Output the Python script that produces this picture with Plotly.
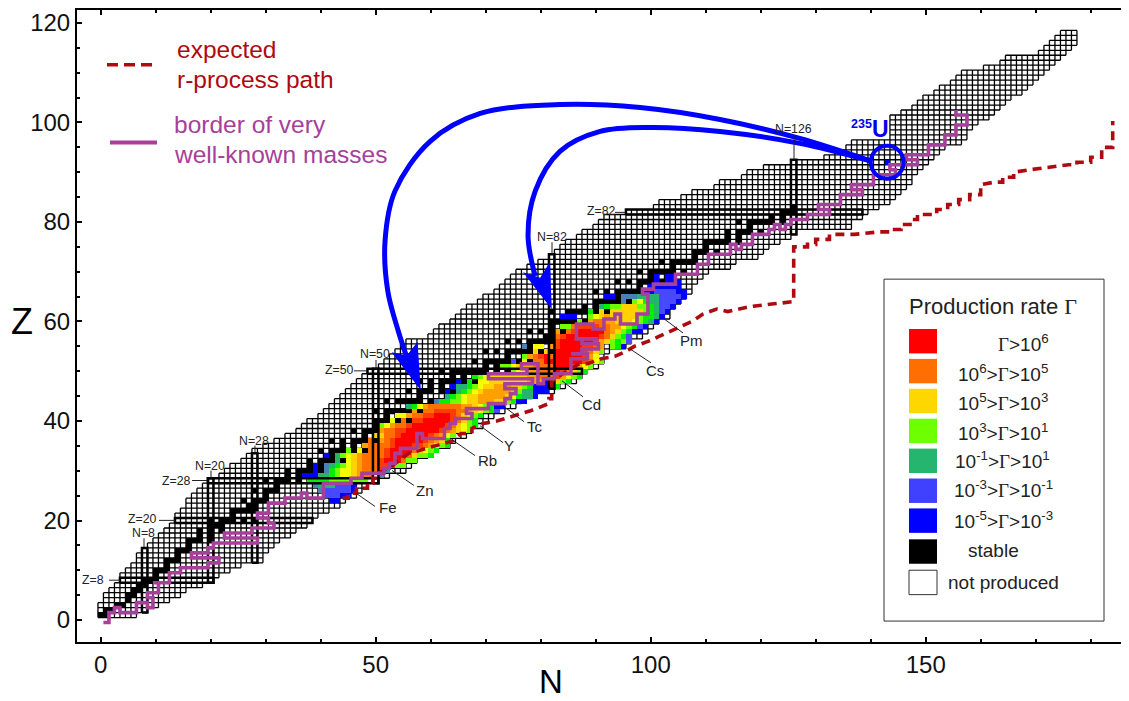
import plotly.graph_objects as go

# ---------- data ----------
grid_nmin = [0,0,0,1,1,2,3,4,4,5,6,7,7,8,9,10,11,12,13,14,14,15,16,16,17,18,19,20,22,23,24,26,27,28,30,32,34,36,37,38,
             40,41,42,43,44,45,46,47,48,49,51,52,53,54,55,56,60,61,62,64,65,66,67,69,70,72,73,74,75,76,78,80,82,83,84,85,87,88,90,91,
             92,96,101,102,106,108,112,113,117,118,121,126,132,134,136,137,144,144,144,144,144,146,148,149,150,152,153,155,156,157,161,164,165,171,172,173,174,175]
grid_nmax = [6,8,10,12,14,15,18,20,21,23,25,29,29,30,31,32,34,35,37,38,39,41,43,44,46,47,48,50,52,55,56,57,59,60,63,64,66,67,69,70,
             71,73,75,76,78,82,84,86,87,88,90,91,91,92,95,96,98,99,100,101,103,103,104,105,106,107,107,108,109,110,114,115,119,120,121,123,125,126,136,136,
             138,139,141,143,144,145,146,147,147,148,149,150,151,152,153,156,157,157,158,159,161,162,163,164,165,167,168,169,170,171,172,173,174,175,176,177,177,177]

stable_neutrons = {
 1:[0,1],2:[1,2],3:[3,4],4:[5],5:[5,6],6:[6,7],7:[7,8],8:[8,9,10],9:[10],10:[10,11,12],11:[12],12:[12,13,14],13:[14],
 14:[14,15,16],15:[16],16:[16,17,18,20],17:[18,20],18:[18,20,22],19:[20,21,22],20:[20,22,23,24,26,28],21:[24],
 22:[24,25,26,27,28],23:[27,28],24:[26,28,29,30],25:[30],26:[28,30,31,32],27:[32],28:[30,32,33,34,36],29:[34,36],
 30:[34,36,37,38,40],31:[38,40],32:[38,40,41,42,44],33:[42],34:[40,42,43,44,46,48],35:[44,46],36:[42,44,46,47,48,50],
 37:[48],38:[46,48,49,50],39:[50],40:[50,51,52,54,56],41:[52],42:[50,52,53,54,55,56,58],44:[52,54,55,56,57,58,60],
 45:[58],46:[56,58,59,60,62,64],47:[60,62],48:[58,60,62,63,64,66,68],49:[64,66],50:[62,64,65,66,67,68,69,70,72,74],
 51:[70,72],52:[68,70,71,72,73,74,76,78],53:[74],54:[70,72,74,75,76,77,78,80,82],55:[78],56:[74,76,78,79,80,81,82],
 57:[81,82],58:[78,80,82,84],59:[82],60:[82,83,84,85,86,88],62:[82,85,86,87,88,90,92],63:[88,90],
 64:[90,91,92,93,94,96],65:[94],66:[90,92,94,95,96,97,98],67:[98],68:[94,96,98,99,100,102],69:[100],
 70:[98,100,101,102,103,104,106],71:[104],72:[102,104,105,106,107,108],73:[108],74:[108,109,110,112],75:[110],
 76:[110,111,112,113,114,116],77:[114,116],78:[114,116,117,118,120],79:[118],80:[116,118,119,120,121,122,124],
 81:[122,124],82:[124,125,126],83:[126]}

# production-rate rows: proton number, first neutron number, one letter per nuclide ("." = none)
rate_z = [24,25,26,27,28,29,29,30,31,32,33,34,35,36,37,38,39,40,41,42,43,44,44,45,46,47,47,48,49,50,51,52,53,54,
          55,55,55,55,55,56,57,58,59,60,60,60,61,61,62,63,64,65,66,67,68,69,69,92]
rate_start = [42,41,40,39,38,37,51,39,39,43,41,45,48,49,50,51,51,53,54,57,56,58,61,63,63,64,82,65,66,75,73,75,77,79,
              77,79,82,83,93,83,83,83,84,84,87,89,84,89,89,91,95,92,98,100,101,101,103,143]
rate_codes = ["ll","kkkll","jkkkkkl","jiiikkkl","hhhhggggggg","llliihgffedcc","j",
  "l.jhgffedcccbj","l.jihgfedccc"+"bbbgg","ihfedccc"+"baaacgg","l.igfedccc"+"cbaaaceggh","g.fdcc"+"cbaaaacefgh",
  "dcc"+"ccbaaabbcdfgh","c."+"dcbaaaaabcdeh","e"+"eccbaaaaabcdfg","dccbbaaaaaabcdefg","gfdccbaaaaaabcefgh",
  "f.ccbbaaaaabcegh","ffdccbbaaabcefgh","dcccbbbbccdefghk","ihfdccccccddefghll","g","jhhggfeedddeeghll",
  "ihgfeedddddefhiil","l.ihgfedddddegiilll","liihgfeedddeeghlll","lh","l.hgffeeeeeeedddll"+"egh",
  "l.hgfeeeeeeeddccc"+"bdfgh","gfeddccc"+"abcegh","ggfeddcccc"+"aaabdfg","kgfdccaaaaaaabcfg","gdcbacaaaaabdf",
  "e.e.aaaaabceg","j","ff","d","baaaabbcd","ghl","baaaaaab"+"deghgk","cbaaaaaabcegh"+"k","d.cbaaaaacdeghll",
  "ggcbbbbccddfghkl","h","g","dccddeeefghil","lll","gfedeeeeeghhil","hgeeeeeeeeghikl","ihggeeegghikkl","j.gfhiikkkl",
  "ll.jjjiiiikkkkl","lllkkkkll","llllll","lllll","l","ll","l"]
rate_letters = "abcdefghijkl"
rate_colors = ["#FF0000","#FF3C00","#FF7000","#FFA000","#FFD200","#F4FF00","#70FF00","#00F000","#24B46E","#4682B4","#4848FF","#0000FF"]

magic_labels = ["Z=8","N=8","Z=20","N=20","Z=28","N=28","Z=50","N=50","N=82","Z=82","N=126"]
magic_n_low  = [3.5,7.5,13.5,19.5,19.5,27.5,48.5,49.5,81.5,95.5,125.5]
magic_n_high = [20.5,8.5,38.5,20.5,50.5,28.5,87.5,50.5,82.5,138.5,126.5]
magic_z_low  = [7.5,1.5,19.5,7.5,27.5,11.5,49.5,27.5,46.5,81.5,77.5]
magic_z_high = [8.5,14.5,20.5,28.5,28.5,33.5,50.5,50.5,73.5,82.5,92.5]

path_n = [0.5,1.5,1.5,2.5,2.5,3.5,3.5,6.5,6.5,8.5,8.5,9.5,9.5,8.5,8.5,10.5,10.5,9.5,12.5,12.5,14.5,14.5,19.5,19.5,21.5,21.5,16.5,16.5,19.5,19.5,20.5,20.5,28.5,28.5,22.5,22.5,27.5,27.5,31.5,31.5,30.5,30.5,28.5,28.5,30.5,30.5,33.5,33.5,36.5,36.5,37.5,37.5,40.5,40.5,45.5,45.5,47.5,47.5,51.5,51.5,52.5,52.5,53.5,53.5,54.5,54.5,57.5,57.5,58.5,58.5,62.5,62.5,63.5,63.5,64.5,64.5,67.5,67.5,66.5,66.5,70.5,70.5,73.5,73.5,74.5,74.5,75.5,75.5,73.5,73.5,78.5,78.5,70.5,70.5,77.5,77.5,76.5,76.5,79.5,79.5,80.5,80.5,82.5,82.5,85.5,85.5,88.5,88.5,85.5,87.5,87.5,90.5,90.5,87.5,87.5,90.5,90.5,86.5,86.5,89.5,89.5,91.5,91.5,93.5,93.5,94.5,94.5,97.5,97.5,99.5,99.5,98.5,98.5,100.5,100.5,104.5,104.5,108.5,108.5,110.5,110.5,114.5,114.5,115.5,115.5,116.5,116.5,118.5,118.5,121.5,121.5,122.5,122.5,123.5,123.5,124.5,124.5,125.5,125.5,128.5,128.5,132.5,132.5,130.5,130.5,134.5,134.5,138.5,138.5,136.5,136.5,140.5,140.5,144.5,144.5,143.5,143.5,148.5,148.5,146.5,146.5,150.5,150.5,153.5,153.5,155.5,155.5,157.5,157.5,155.5,155.5]
path_z = [-0.5,-0.5,1.5,1.5,2.5,2.5,1.5,1.5,3.5,3.5,2.5,2.5,4.5,4.5,5.5,5.5,7.5,7.5,7.5,9.5,9.5,10.5,10.5,11.5,11.5,12.5,12.5,13.5,13.5,14.5,14.5,15.5,15.5,16.5,16.5,17.5,17.5,18.5,18.5,19.5,19.5,20.5,20.5,21.5,21.5,23.5,23.5,24.5,24.5,25.5,25.5,24.5,24.5,27.5,27.5,28.5,28.5,29.5,29.5,30.5,30.5,31.5,31.5,33.5,33.5,34.5,34.5,37.5,37.5,36.5,36.5,38.5,38.5,39.5,39.5,40.5,40.5,41.5,41.5,42.5,42.5,43.5,43.5,44.5,44.5,45.5,45.5,46.5,46.5,47.5,47.5,48.5,48.5,49.5,49.5,50.5,50.5,51.5,51.5,47.5,47.5,48.5,48.5,49.5,49.5,52.5,52.5,53.5,53.5,53.5,54.5,54.5,55.5,55.5,56.5,56.5,56.5,56.5,59.5,59.5,58.5,58.5,60.5,60.5,61.5,61.5,59.5,59.5,61.5,61.5,65.5,65.5,66.5,66.5,67.5,67.5,69.5,69.5,71.5,71.5,73.5,73.5,75.5,75.5,74.5,74.5,75.5,75.5,77.5,77.5,78.5,78.5,79.5,79.5,78.5,78.5,79.5,79.5,80.5,80.5,81.5,81.5,82.5,82.5,83.5,83.5,85.5,85.5,86.5,86.5,87.5,87.5,89.5,89.5,90.5,90.5,91.5,91.5,92.5,92.5,93.5,93.5,95.5,95.5,97.5,97.5,99.5,99.5,101.5,101.5,102.5]

rpath_n = [44,45,45,46.5,46.5,48.5,48.5,49.5,49.5,50.5,50.5,53,56,59,62,64,65.5,67.5,67.5,69.5,72,75,78,81.5,81.5,82,82,84,85.5,87,88.5,91,93.5,95.5,97,99.5,101.5,103.5,105.5,107.5,109.5,112,114,118,122,126,126,128.5,128.5,130,130,132.5,132.5,137,141.5,143.5,143.5,145.5,145.5,147.5,147.5,148.5,148.5,152,152,154,154,156,156,158,158,160,160,162.5,164,164,166,166,169,172.5,176,177.5,177.5,180,180,182,182,184,184]
rpath_z = [24.5,24.5,25.5,25.5,26.5,26.5,27.5,27.5,28.5,28.5,29.5,31,33.5,34.5,35.5,36,37.5,37.5,38.5,39.5,40,41,42,43.5,44.5,44.5,48,49.5,50.5,51.5,51.5,52.5,53,54,55,56,57,58,59,60,61.5,62.5,62,63,63.5,64,75,75,75.5,75.5,76.5,76.5,77.5,77.5,78,78,78.5,78.5,79.5,79.5,80.5,80.5,81.5,81.5,82.5,82.5,83.5,83.5,84.5,84.5,85.5,85.5,87.5,88,88,89,89,90,90.5,91,91.5,91.5,92,92,93,93,95,95,100.3]

arrow1_n = [140.2,127.1,112.6,98.1,83.5,69,59.9,53.5,51.7,52.2,54.1,56.2]
arrow1_z = [92.2,96.8,100.6,103,103.6,101.8,96.2,86.2,76.2,66.1,58.1,51.1]
head1_n = [52.9,55.6,57.6,58.2]
head1_z = [53.8,53.1,55.9,46.2]
arrow2_n = [140.2,127.1,112.6,99.9,90.8,83.5,79,77.7,79]
arrow2_z = [92.2,95.8,98.2,99,98.2,94.2,86.2,77.2,69.1]
head2_n = [76.8,79.9,81.7,82]
head2_z = [69.9,68.8,72,62.5]
u235 = (143, 92)

nuclide_labels = ["Fe","Zn","Rb","Y","Tc","Cd","Cs","Pm"]
legend_labels = ["Γ>10<sup>6</sup>","10<sup>6</sup>>Γ>10<sup>5</sup>","10<sup>5</sup>>Γ>10<sup>3</sup>","10<sup>3</sup>>Γ>10<sup>1</sup>",
                 "10<sup>-1</sup>>Γ>10<sup>1</sup>","10<sup>-3</sup>>Γ>10<sup>-1</sup>","10<sup>-5</sup>>Γ>10<sup>-3</sup>","stable","not produced"]
legend_colors = ["#FF0000","#FF6E00","#FFD700","#6EFF00","#25B56F","#4040FF","#0000FF","#000000","#FFFFFF"]

# ---------- page geometry ----------
OFF = 8          # browser body margin
PL, PR, PT, PB = 77, 1129, 8, 642
XR = [(PL-100.7)/5.5, (PR-100.7)/5.5]
YR = [(620-PB)/4.992, (620-PT)/4.992]
def xp(px): return (px-PL)/(PR-PL)
def yp(py): return (PB-py)/(PB-PT)
FONT = "Liberation Sans, Arial, sans-serif"

# ---------- matrices ----------
ns = list(range(-1, 186))
zs = list(range(-1, 120))
rate = [[None]*len(ns) for _ in zs]
for z, s, codes in zip(rate_z, rate_start, rate_codes):
    for k, c in enumerate(codes):
        if c != ".":
            rate[z+1][s+k+1] = rate_letters.index(c)
for z, nn in stable_neutrons.items():
    for n in nn:
        rate[z+1][n+1] = 12
allc = rate_colors + ["#000000"]
cs = [[i/12, c] for i, c in enumerate(allc)]

# cell outlines of the nuclide chart
grid_path = []
for i, (lo, hi) in enumerate(zip(grid_nmin, grid_nmax)):
    z = i + 1
    grid_path.append(f"M{lo-.5},{z-.5}L{hi+.5},{z-.5}M{lo-.5},{z+.5}L{hi+.5},{z+.5}")
    for n in range(lo, hi+2):
        grid_path.append(f"M{n-.5},{z-.5}L{n-.5},{z+.5}")

fig = go.Figure()
fig.add_heatmap(x=ns, y=zs, z=rate, colorscale=cs, zmin=0, zmax=12, showscale=False, hoverinfo="skip")

for a, b, c, d in zip(magic_n_low, magic_n_high, magic_z_low, magic_z_high):
    fig.add_scatter(x=[a,b,b,a,a], y=[c,c,d,d,c], mode="lines", line=dict(color="#000", width=2.5), hoverinfo="skip", showlegend=False)

fig.add_scatter(x=rpath_n, y=rpath_z, mode="lines", line=dict(color="#AE0A10", width=3.6, dash="9px,6px"), hoverinfo="skip", showlegend=False)
fig.add_scatter(x=path_n, y=path_z, mode="lines", line=dict(color="#A6409A", width=3.6), hoverinfo="skip", showlegend=False)

for xs, ys in [(arrow1_n, arrow1_z), (arrow2_n, arrow2_z)]:
    fig.add_scatter(x=xs, y=ys, mode="lines", line=dict(color="#0000FF", width=5, shape="spline", smoothing=1), hoverinfo="skip", showlegend=False)
for xs, ys in [(head1_n, head1_z), (head2_n, head2_z)]:
    fig.add_scatter(x=xs+xs[:1], y=ys+ys[:1], mode="lines", fill="toself", fillcolor="#0000FF", line=dict(color="#0000FF", width=0), hoverinfo="skip", showlegend=False)
fig.add_scatter(x=[u235[0]], y=[u235[1]], mode="markers", marker=dict(symbol="circle-open", size=33, color="#0000FF", line=dict(color="#0000FF", width=4)), hoverinfo="skip", showlegend=False)

ann, shp = [], []
shp.append(dict(type="path", xref="x", yref="y", path="".join(grid_path), line=dict(color="#000", width=1.3), layer="below"))
def text(px, py, t, size, color="#222", anchor="center", font=FONT, bold=False):
    if bold: t = "<b>"+t+"</b>"
    ann.append(dict(xref="paper", yref="paper", x=xp(px), y=yp(py), text=t, showarrow=False, xanchor=anchor, yanchor="middle",
                    font=dict(size=size, color=color, family=font), align="left" if anchor=="left" else "center"))
def seg(x0, y0, x1, y1, color="#222", width=1):
    shp.append(dict(type="line", xref="paper", yref="paper", x0=xp(x0), y0=yp(y0), x1=xp(x1), y1=yp(y1), line=dict(color=color, width=width)))

# magic labels
mpos = [(93,580),(143,533),(142,519),(210,465),(176,480),(254,440),(339,369),(375,353),(552,236),(601,210),(793,127)]
mline = [(109,580,120,580),(144,538,144,547),(159,520,175,520),(211,470,211,478),(192,480,207,480),(255,445,255,452),(354,370,367,370),(376,359,376,368),(552,241,552,253),(615,211,625,211),(794,134,794,158)]
for lab, (x, y), l in zip(magic_labels, mpos, mline):
    text(x, y, lab, 12.3)
    seg(*l)
# nuclide labels
npos = [(388,507),(425,490),(487,460),(509,445),(535,426),(591,404),(655,370),(691,340)]
nline = [(355,492,375,506),(392,470,414,485),(452,439,475,455),(480,425,503,442),(503,405,524,421),(562,380,583,396),(630,348,651,362),(663,317,683,332)]
for lab, (x, y), l in zip(nuclide_labels, npos, nline):
    text(x, y, lab, 15)
    seg(*l)

# top-left legend
shp.append(dict(type="line", xref="paper", yref="paper", x0=xp(107), y0=yp(63), x1=xp(158), y1=yp(63), line=dict(color="#AE0A10", width=3.5, dash="11px,6px")))
seg(110,141,157,141,"#A6409A",4)
text(175,48,"expected",24.5,"#AE0A10","left")
text(175,78,"r-process path",24.5,"#AE0A10","left")
text(172,123,"border of very",24.5,"#A6409A","left")
text(172,153,"well-known masses",24.5,"#A6409A","left")

# 235U label
text(861,122,"235",12.5,"#0000EE",bold=True)
text(880,127,"U",23,"#0000EE",bold=True)

# axis titles
text(22,320,"Z",36,"#000")
text(551,682,"N",33,"#000")

# rate legend
shp.append(dict(type="rect", xref="paper", yref="paper", x0=xp(884), x1=xp(1104), y0=yp(278), y1=yp(621), line=dict(color="#333", width=1), fillcolor="#FFF", layer="above"))
text(993,305,'Production rate <span style="font-family:Liberation Serif">Γ</span>',22)
tops = [328,358,388,418,448,478,508,539,570]
centers = [(1023,342),(1003,372),(1003,401),(1003,431),(1002,459),(1003,489),(1003,520),(993,550),(1003,582)]
for t, col, lab, (cx, cy) in zip(tops, legend_colors, legend_labels, centers):
    shp.append(dict(type="rect", xref="paper", yref="paper", x0=xp(909), x1=xp(937), y0=yp(t), y1=yp(t+24.5),
                    line=dict(color="#333", width=1 if col=="#FFFFFF" else 0), fillcolor=col, layer="above"))
    text(cx, cy, lab.replace("Γ",'<span style="font-family:Liberation Serif">Γ</span>'), 19)

fig.update_layout(
    width=1129-OFF, height=701-OFF,
    margin=dict(l=PL-OFF, r=0, t=PT-OFF, b=701-PB),
    plot_bgcolor="#FFF", paper_bgcolor="#FFF",
    font=dict(family=FONT, color="#000"), showlegend=False,
    annotations=ann, shapes=shp,
    xaxis=dict(range=XR, dtick=50, tick0=0, showgrid=False, zeroline=False, showline=True, linecolor="#000", linewidth=2, mirror="ticks",
               ticks="inside", ticklen=5, tickwidth=2, tickcolor="#000", tickfont=dict(size=24, color="#111"),
               minor=dict(dtick=10, tick0=0, ticks="inside", ticklen=3, tickwidth=2, tickcolor="#000", showgrid=False)),
    yaxis=dict(range=YR, dtick=20, tick0=0, showgrid=False, zeroline=False, showline=True, linecolor="#000", linewidth=2,
               ticks="inside", ticklen=5, tickwidth=2, tickcolor="#000", tickfont=dict(size=24, color="#111"),
               minor=dict(dtick=5, tick0=0, ticks="inside", ticklen=3, tickwidth=2, tickcolor="#000", showgrid=False)),
)
fig.write_html("out.html")
